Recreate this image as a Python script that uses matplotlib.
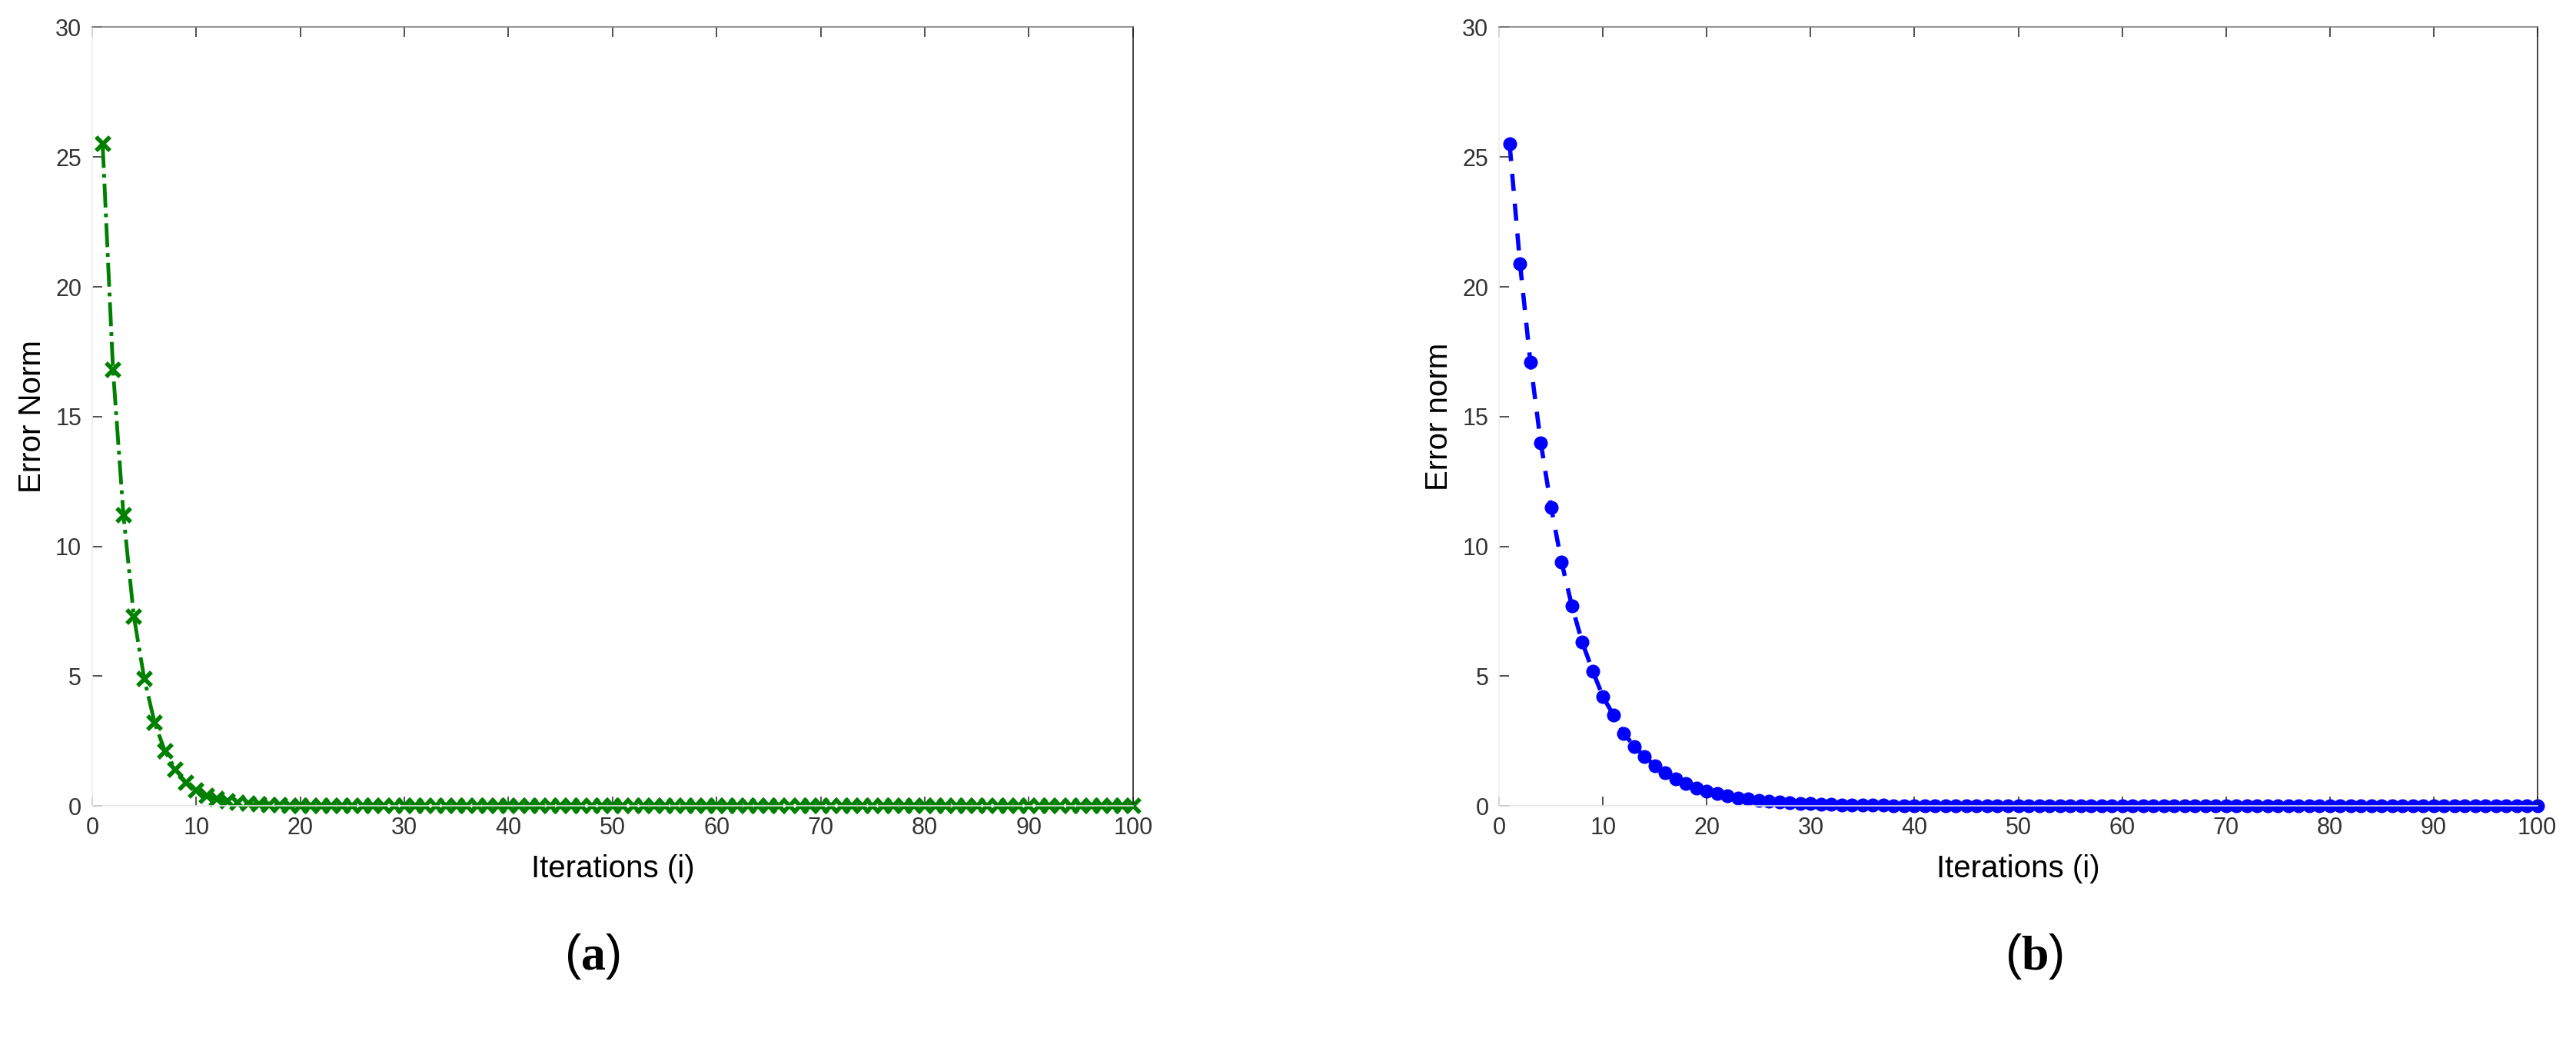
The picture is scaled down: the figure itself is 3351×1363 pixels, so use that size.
"""Error norm vs iterations, two panels (a) green, (b) blue."""

import matplotlib.pyplot as plt

plt.rcParams["font.family"] = ["Liberation Sans", "DejaVu Sans"]
plt.rcParams["mathtext.fontset"] = "custom"
plt.rcParams["mathtext.rm"] = "Liberation Serif"
plt.rcParams["mathtext.bf"] = "Liberation Serif:bold"

iterations = list(range(1, 101))

# panel (a): fast decay
err_a = [25.5, 16.8, 11.2, 7.3, 4.9, 3.2, 2.1, 1.4, 0.9, 0.6,
         0.4, 0.27, 0.18, 0.12, 0.08, 0.05, 0.035, 0.02, 0.015, 0.01] + [0.0] * 80

# panel (b): slower decay
err_b = [25.5, 20.9, 17.1, 14.0, 11.5, 9.4, 7.7, 6.3, 5.2, 4.2,
         3.5, 2.8, 2.3, 1.9, 1.55, 1.27, 1.04, 0.85, 0.7, 0.57,
         0.47, 0.38, 0.31, 0.26, 0.21, 0.17, 0.14, 0.12, 0.1, 0.08,
         0.065, 0.05, 0.04, 0.035, 0.03, 0.025, 0.02, 0.015, 0.01, 0.01] + [0.0] * 60

x_ticks = [0, 10, 20, 30, 40, 50, 60, 70, 80, 90, 100]
y_ticks = [0, 5, 10, 15, 20, 25, 30]


def style_axes(ax, ylabel):
    ax.set_xlim(0, 100)
    ax.set_ylim(0, 30)
    ax.set_xticks(x_ticks)
    ax.set_yticks(y_ticks)
    ax.tick_params(direction="in", length=9, width=1.2, colors="#333333",
                   labelsize=22, pad=10, top=True, right=False)
    ax.spines["left"].set_color("#eeeeee")
    ax.spines["bottom"].set_color("#e6e6e6")
    ax.spines["top"].set_color("#808080")
    ax.spines["right"].set_color("#262626")
    for s in ax.spines.values():
        s.set_linewidth(1.2)
    ax.set_xlabel("Iterations (i)", fontsize=29, labelpad=14)
    ax.set_ylabel(ylabel, fontsize=29, labelpad=8)


fig = plt.figure(figsize=(33.51, 13.63), dpi=100)

ax_a = fig.add_axes([0.0358, 0.231, 0.404, 0.743])
ax_a.plot(iterations, err_a, linestyle="-.", color="#008000", linewidth=3.5,
          marker="x", markersize=13, markeredgewidth=4, clip_on=False)
style_axes(ax_a, "Error Norm")

ax_b = fig.add_axes([0.582, 0.231, 0.403, 0.743])
ax_b.plot(iterations, err_b, linestyle="--", color="#0000ff", linewidth=4,
          marker="o", markersize=12, dashes=(4, 3), clip_on=False)
style_axes(ax_b, "Error norm")

fig.text(0.2298, 0.087, r"($\mathbf{a}$)", fontsize=46, ha="center", va="center")
fig.text(0.7895, 0.087, r"($\mathbf{b}$)", fontsize=46, ha="center", va="center")

fig.savefig("out.png", dpi=100)
